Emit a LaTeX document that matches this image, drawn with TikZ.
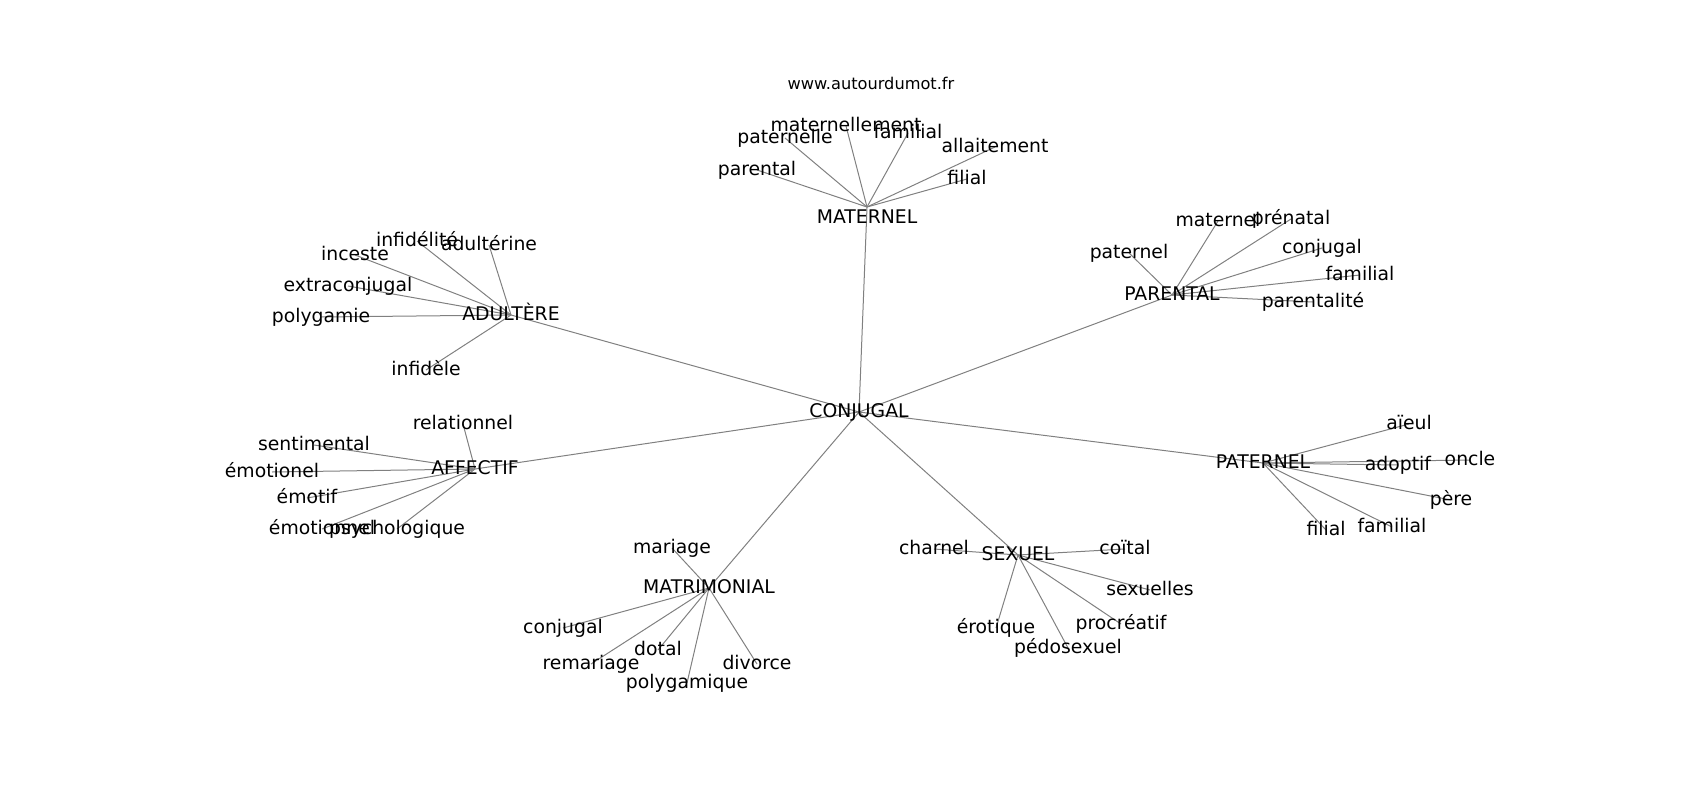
\documentclass[tikz,border=0pt]{standalone}
\usepackage{fontspec}
\setmainfont{DejaVu Sans}
\usetikzlibrary{backgrounds}
\begin{document}
\begin{tikzpicture}[x=1pt,y=-1pt,
  lbl/.style={inner sep=0pt, font=\fontsize{18.8}{22}\selectfont, text height=16.2pt, text depth=4.4pt, text=black},
  ttl/.style={inner sep=0pt, font=\fontsize{16.2}{19}\selectfont, text height=12.3pt, text depth=3.8pt, text=black},
  edge/.style={draw=gray, line width=1pt}]
\useasboundingbox (0,0) rectangle (1700,800);
\node[ttl] (title) at (871,85) {www.autourdumot.fr};
% hubs
\node[lbl] (conj) at (859,412) {CONJUGAL};
\node[lbl] (mat) at (867,207) {\raisebox{-10.4pt}{MATERNEL}};
\node[lbl] (adu) at (511,315) {ADULTÈRE};
\node[lbl] (par) at (1172,295) {PARENTAL};
\node[lbl] (aff) at (475,469) {AFFECTIF};
\node[lbl] (pat) at (1263,463) {PATERNEL};
\node[lbl] (matr) at (709,588) {MATRIMONIAL};
\node[lbl] (sex) at (1018,555) {SEXUEL};
% MATERNEL leaves
\node[lbl] (m1) at (757,170) {parental};
\node[lbl] (m2) at (785,138) {paternelle};
\node[lbl] (m3) at (846,126) {maternellement};
\node[lbl] (m4) at (908,133) {familial};
\node[lbl] (m5) at (995,147) {allaitement};
\node[lbl] (m6) at (967,179) {filial};
% ADULTERE leaves
\node[lbl] (a1) at (417,241) {infidélité};
\node[lbl] (a2) at (489,245) {adultérine};
\node[lbl] (a3) at (355,255) {inceste};
\node[lbl] (a4) at (348,286) {extraconjugal};
\node[lbl] (a5) at (321,317) {polygamie};
\node[lbl] (a6) at (426,370) {infidèle};
% PARENTAL leaves
\node[lbl] (p1) at (1129,253) {paternel};
\node[lbl] (p2) at (1218,221) {maternel};
\node[lbl] (p3) at (1291,219) {prénatal};
\node[lbl] (p4) at (1322,248) {conjugal};
\node[lbl] (p5) at (1360,275) {familial};
\node[lbl] (p6) at (1313,302) {parentalité};
% AFFECTIF leaves
\node[lbl] (f1) at (463,424) {relationnel};
\node[lbl] (f2) at (314,445) {sentimental};
\node[lbl] (f3) at (272,472) {émotionel};
\node[lbl] (f4) at (307,498) {émotif};
\node[lbl] (f5) at (322,529) {émotionnel};
\node[lbl] (f6) at (397,529) {psychologique};
% PATERNEL leaves
\node[lbl] (t1) at (1409,424) {aïeul};
\node[lbl] (t2) at (1398,465) {adoptif};
\node[lbl] (t3) at (1470,460) {oncle};
\node[lbl] (t4) at (1451,500) {père};
\node[lbl] (t5) at (1392,527) {familial};
\node[lbl] (t6) at (1326,530) {filial};
% MATRIMONIAL leaves
\node[lbl] (r1) at (672,548) {mariage};
\node[lbl] (r2) at (563,628) {conjugal};
\node[lbl] (r3) at (591,664) {remariage};
\node[lbl] (r4) at (658,650) {dotal};
\node[lbl] (r5) at (687,683) {polygamique};
\node[lbl] (r6) at (757,664) {divorce};
% SEXUEL leaves
\node[lbl] (s1) at (934,549) {charnel};
\node[lbl] (s2) at (1125,549) {coïtal};
\node[lbl] (s3) at (1150,590) {sexuelles};
\node[lbl] (s4) at (1121,624) {procréatif};
\node[lbl] (s5) at (1068,648) {pédosexuel};
\node[lbl] (s6) at (996,628) {érotique};
\begin{pgfonlayer}{background}
\foreach \h in {mat,adu,par,aff,pat,matr,sex}
  \draw[edge] (conj.center) -- (\h.center);
\foreach \h/\l in {m/mat,a/adu,p/par,f/aff,t/pat,r/matr,s/sex}
  \foreach \i in {1,...,6}
    \draw[edge] (\l.center) -- (\h\i.center);
\end{pgfonlayer}
\end{tikzpicture}
\end{document}
